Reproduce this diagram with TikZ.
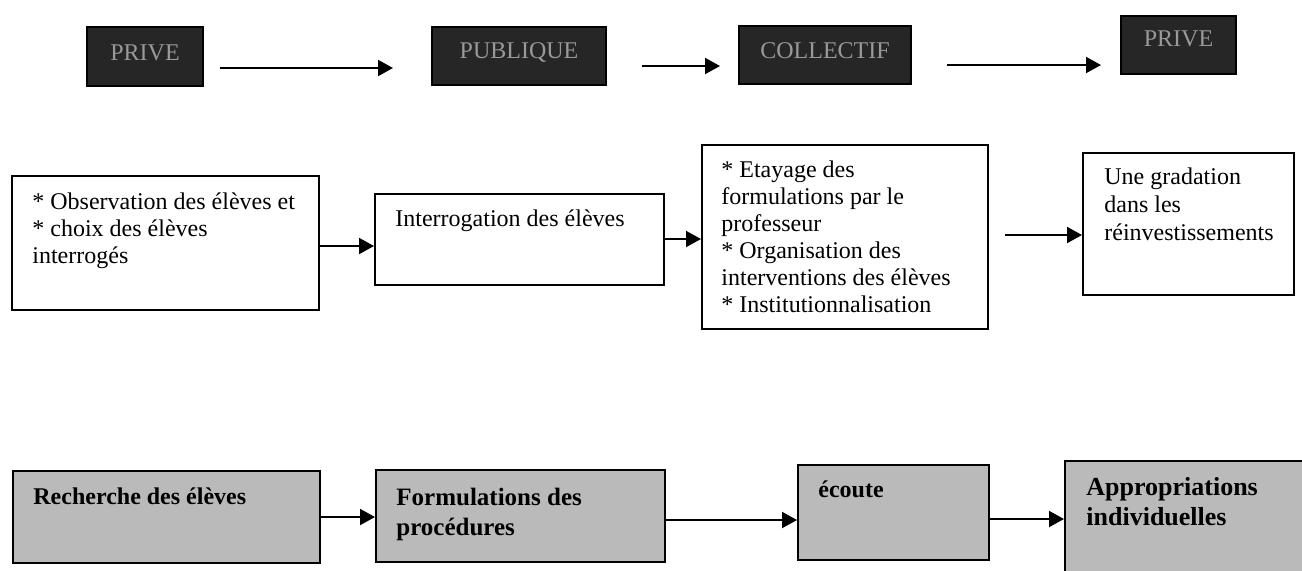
\documentclass[tikz,border=0pt]{standalone}
\usepackage{fontspec}
\setmainfont{Liberation Serif}
\usetikzlibrary{arrows.meta,calc}
\begin{document}
\begin{tikzpicture}[x=0.5pt,y=-0.5pt,
  darkbox/.style={draw=black, fill=black!85, line width=1pt, inner sep=0pt, anchor=north west},
  darklbl/.style={text=white!60!black, font=\fontsize{12pt}{14pt}\selectfont, inner sep=0pt},
  wbox/.style={draw=black, fill=white, line width=1pt, inner sep=0pt, anchor=north west},
  gbox/.style={wbox, fill=black!27},
  txt/.style={anchor=base west, inner sep=0pt, font=\fontsize{12pt}{13.5pt}\selectfont},
  btxt/.style={anchor=base west, inner sep=0pt, font=\fontsize{12pt}{15pt}\selectfont\bfseries},
  arr/.style={line width=1pt, -{Triangle[length=7.5pt,width=8pt]}}]
\useasboundingbox (0,0) rectangle (1302,570);

% top row
\node[darkbox, minimum width=58pt, minimum height=29.5pt,
  label={[darklbl, yshift=2pt]center:PRIVE}] (p1) at (86,26) {};
\node[darkbox, minimum width=87pt, minimum height=29pt,
  label={[darklbl, yshift=2pt]center:PUBLIQUE}] (p2) at (431,26) {};
\node[darkbox, minimum width=86pt, minimum height=29pt,
  label={[darklbl, yshift=2pt]center:COLLECTIF}] (p3) at (738,25) {};
\node[darkbox, minimum width=57.5pt, minimum height=29pt,
  label={[darklbl, yshift=3pt]center:PRIVE}] (p4) at (1120,15) {};

\coordinate (t1s) at (220,68);  \coordinate (t1e) at (393,68);
\coordinate (t2s) at (642,66);  \coordinate (t2e) at (720,66);
\coordinate (t3s) at (947,65);  \coordinate (t3e) at (1101,65);
\draw[arr] (t1s) -- (t1e);
\draw[arr] (t2s) -- (t2e);
\draw[arr] (t3s) -- (t3e);

% middle row
\node[wbox, minimum width=153.5pt, minimum height=67pt] (A) at (11,175) {};
\node[wbox, minimum width=144.5pt, minimum height=45.5pt] (B) at (374,193) {};
\node[wbox, minimum width=143pt, minimum height=92pt] (C) at (701,144) {};
\node[wbox, minimum width=105.5pt, minimum height=71pt] (D) at (1082,152) {};

\node[txt] (At) at ($(A.north west)+(21,34)$) {\parbox[t]{150pt}{* Observation des élèves et\\\relax * choix des élèves\\\relax interrogés}};
\node[txt] (Bt) at ($(B.north west)+(21,33)$) {Interrogation des élèves};
\node[txt] (Ct) at ($(C.north west)+(20,33)$) {\parbox[t]{140pt}{* Etayage des\\\relax formulations par le\\\relax professeur\\\relax * Organisation des\\\relax interventions des élèves\\\relax * Institutionnalisation}};
\node[txt, font=\fontsize{12pt}{14pt}\selectfont] (Dt) at ($(D.north west)+(22,32)$) {\parbox[t]{100pt}{Une gradation\\\relax dans les\\\relax réinvestissements}};

\coordinate (ab) at (0,246);
\coordinate (bc) at (0,239);
\coordinate (cd) at (1005,235);
\draw[arr] (A.east |- ab) -- (B.west |- ab);
\draw[arr] (B.east |- bc) -- (C.west |- bc);
\draw[arr] (cd) -- (cd -| D.west);

% bottom row
\node[gbox, minimum width=153.5pt, minimum height=46pt] (E) at (12,470) {};
\node[gbox, minimum width=144.5pt, minimum height=46pt] (F) at (375,469) {};
\node[gbox, minimum width=95.5pt, minimum height=47.5pt] (G) at (797,464) {};
\node[gbox, minimum width=124pt, minimum height=61pt] (H) at (1064,460) {};

\node[btxt] (Et) at ($(E.north west)+(21,34)$) {Recherche des élèves};
\node[btxt, font=\fontsize{12.5pt}{15pt}\selectfont\bfseries] (Ft) at ($(F.north west)+(21,36)$) {\parbox[t]{140pt}{Formulations des\\\relax procédures}};
\node[btxt] (Gt) at ($(G.north west)+(21,33)$) {écoute};
\node[btxt, font=\fontsize{13pt}{15pt}\selectfont\bfseries] (Ht) at ($(H.north west)+(22,35)$) {\parbox[t]{120pt}{Appropriations\\\relax individuelles}};

\coordinate (ef) at (0,517);
\coordinate (fg) at (0,520);
\coordinate (gh) at (0,519);
\draw[arr] (E.east |- ef) -- (F.west |- ef);
\draw[arr] (F.east |- fg) -- (G.west |- fg);
\draw[arr] (G.east |- gh) -- (H.west |- gh);
\end{tikzpicture}
\end{document}
